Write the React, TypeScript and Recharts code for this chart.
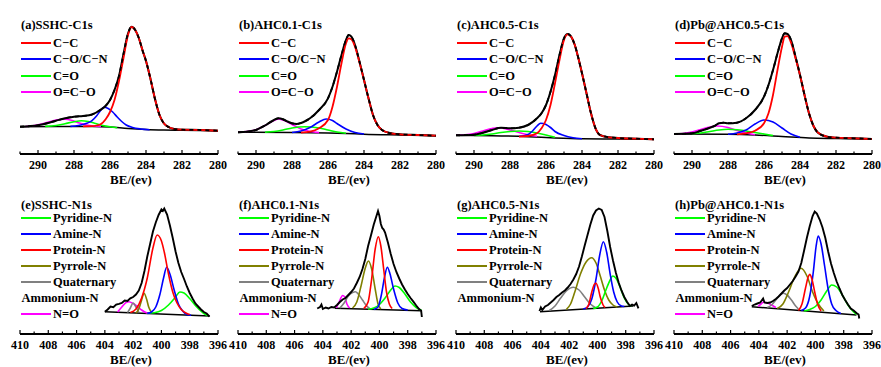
import React from 'react';
import { Line, LineChart, XAxis, YAxis } from 'recharts';

type Pt = [number, number];

// Values: binding energy (eV), intensity in frame units (0 = frame bottom, 139 = frame top)

// (a) SSHC C1s
const A_RAW: Pt[] = [[291, 27.3], [290.5, 27.8], [290, 28.7], [289.5, 30.7], [289, 33.3], [288.5, 35.7], [288, 37.3], [287.5, 38], [287, 39.5], [286.5, 44.5], [286.25, 48], [286, 54], [285.75, 64], [285.5, 78], [285.25, 100], [285, 120.5], [284.8, 127.3], [284.6, 124], [284.4, 116], [284.2, 104], [284, 93], [283.75, 75], [283.5, 55], [283.25, 39], [283, 30.5], [282.75, 27], [282.5, 25.3], [282, 24.3], [281, 24], [280, 23.3]];
const A_BASE: Pt[] = [[291, 27.3], [289, 27.6], [287, 27.6], [286, 27], [285, 25.5], [284, 24.5], [283, 24], [282, 23.8], [280, 23.3]];
const A_CC: Pt[] = [[287.5, 27.7], [287, 27.8], [286.75, 28.5], [286.5, 30], [286.25, 34.5], [286, 42], [285.75, 54], [285.5, 73], [285.25, 96], [285, 119], [284.8, 127], [284.6, 124], [284.4, 116], [284.2, 104], [284, 93], [283.75, 75], [283.5, 55], [283.25, 39], [283, 30.5], [282.75, 27], [282.5, 25.3], [282, 24.3], [281, 24], [280, 23.3]];
const A_CO: Pt[] = [[288.2, 27.6], [287.75, 28.5], [287.25, 31], [287, 33.3], [286.75, 38], [286.5, 44], [286.35, 46.7], [286.1, 45.5], [285.85, 42], [285.6, 37], [285.35, 32.5], [285.1, 29], [284.75, 26.5], [284.3, 25], [283.8, 24.3]];
const A_CDO: Pt[] = [[289.6, 27.6], [289, 28.5], [288.5, 30.3], [288, 32.3], [287.6, 33.3], [287.2, 32.5], [286.8, 30.5], [286.4, 28.5], [286, 27.2], [285.6, 26.3]];
const A_OCO: Pt[] = [[290.7, 27.5], [290.2, 28.5], [289.7, 30.5], [289.2, 33], [288.8, 34.5], [288.5, 34.7], [288.1, 33.5], [287.7, 31], [287.3, 29], [286.9, 28], [286.5, 27.6]];

// (b) AHC0.1 C1s
const B_RAW: Pt[] = [[291, 21.7], [290.5, 22.3], [290, 24], [289.5, 28.5], [289, 34], [288.75, 35.7], [288.5, 34.7], [288.25, 32.5], [288, 30.7], [287.75, 30], [287.5, 31], [287.25, 33], [287, 35.7], [286.5, 44], [286, 55.7], [285.75, 67.3], [285.5, 82.3], [285.25, 99], [285, 114], [284.85, 119], [284.7, 117.3], [284.5, 109], [284.25, 92.3], [284, 74], [283.75, 55.7], [283.5, 39], [283.25, 29], [283, 24], [282.5, 20.7], [282, 19.7], [281, 19], [280, 18.3]];
const B_BASE: Pt[] = [[291, 21.7], [288, 21.5], [286, 21], [285, 20.5], [284, 19.8], [282, 19], [280, 18.3]];
const B_CC: Pt[] = [[287.5, 21.4], [287, 22.3], [286.5, 25.7], [286, 34], [285.75, 47.3], [285.5, 67.3], [285.25, 90.7], [285, 110.7], [284.85, 115.7], [284.7, 114.7], [284.5, 107.3], [284.25, 91.5], [284, 74], [283.75, 55.7], [283.5, 39], [283.25, 29], [283, 24], [282.5, 20.7], [282, 19.7], [281, 19], [280, 18.3]];
const B_CO: Pt[] = [[288, 21.5], [287.5, 23], [287, 26.5], [286.5, 32], [286.1, 35], [285.75, 33.5], [285.5, 30.5], [285, 25], [284.5, 21.5], [284, 20]];
const B_CDO: Pt[] = [[289.5, 21.8], [289, 22.5], [288.5, 24], [288, 26], [287.3, 27.3], [286.5, 26], [286, 24], [285.5, 22], [285, 20.8]];
const B_OCO: Pt[] = [[291, 21.8], [290.5, 22.4], [290, 24.3], [289.5, 28.5], [289, 33.5], [288.75, 35], [288.5, 34], [288, 29.5], [287.5, 25], [287, 22.5], [286.5, 21.4]];

// (c) AHC0.5 C1s
const C_RAW: Pt[] = [[291, 18.7], [290, 19.3], [289.5, 21.3], [289, 24], [288.5, 26.3], [288, 25.7], [287.5, 26.3], [287, 29], [286.5, 35.7], [286.25, 40.7], [286, 49], [285.75, 62.3], [285.5, 79], [285.25, 99], [285, 115.7], [284.8, 120], [284.6, 117.3], [284.4, 109], [284.2, 95.7], [284, 80.7], [283.75, 60.7], [283.5, 40.7], [283.25, 25.7], [283, 19], [282.5, 16.7], [282, 16], [281, 15.3], [280, 14.7]];
const C_BASE: Pt[] = [[291, 18.7], [289, 18.3], [287, 17.3], [285.5, 16], [284, 15.2], [282, 15], [280, 14.7]];
const C_CC: Pt[] = [[287.5, 17.4], [287, 18], [286.5, 20.7], [286.25, 25.7], [286, 34], [285.75, 49], [285.5, 70.7], [285.25, 94], [285, 114], [284.8, 119.7], [284.6, 117.3], [284.4, 109], [284.2, 95.7], [284, 80.7], [283.75, 60.7], [283.5, 40.7], [283.25, 25.7], [283, 19], [282.5, 16.7], [282, 16], [281, 15.3], [280, 14.7]];
const C_CO: Pt[] = [[287.5, 17.5], [287, 19.5], [286.75, 23], [286.5, 28], [286.3, 30.7], [286, 29.5], [285.75, 26.5], [285.5, 22.5], [285, 18.5], [284.5, 16.3], [284, 15.3]];
const C_CDO: Pt[] = [[290, 18.6], [289.5, 19], [289, 20], [288.5, 21.5], [288, 22.5], [287.5, 23], [287, 22.5], [286.5, 21], [286, 19], [285.5, 16.8]];
const C_OCO: Pt[] = [[291, 18.8], [290.5, 19.2], [290, 20.5], [289.5, 23], [289, 25.5], [288.7, 26.3], [288.5, 26], [288, 24], [287.5, 21.5], [287, 19.3], [286.5, 17.8]];

// (d) Pb@AHC0.5 C1s
const D_RAW: Pt[] = [[291, 20], [290, 20.7], [289.5, 23.3], [289, 26.3], [288.75, 28], [288.5, 30.7], [288.25, 31.3], [288, 30.7], [287.5, 31.3], [287, 35.7], [286.5, 44], [286, 57.3], [285.75, 69], [285.5, 84], [285.25, 100.7], [285, 115.7], [284.85, 120.7], [284.7, 120], [284.5, 114], [284.25, 97.3], [284, 79], [283.75, 59], [283.5, 40.7], [283.25, 28], [283, 21.3], [282.5, 17.3], [282, 16.3], [281, 15.7], [280, 15]];
const D_BASE: Pt[] = [[291, 20], [288, 19.7], [286.5, 19], [285, 17.5], [283.5, 16], [282, 15.5], [280, 15]];
const D_CC: Pt[] = [[287.5, 19.6], [287, 20.7], [286.5, 23.3], [286, 30.7], [285.75, 40.7], [285.5, 59], [285.25, 84], [285, 107.3], [284.85, 117.3], [284.7, 117.8], [284.5, 111.3], [284.25, 95.7], [284, 79], [283.75, 59], [283.5, 40.7], [283.25, 28], [283, 21.3], [282.5, 17.3], [282, 16.3], [281, 15.7], [280, 15]];
const D_CO: Pt[] = [[288, 19.7], [287.5, 21], [287, 24], [286.5, 30], [286, 34], [285.5, 32], [285, 26], [284.5, 20], [284, 16.8]];
const D_CDO: Pt[] = [[290, 20.3], [289.5, 21], [289, 22.5], [288.5, 24], [288, 24.7], [287.5, 24.3], [287, 23], [286.5, 21.5], [286, 20], [285.5, 18.4]];
const D_OCO: Pt[] = [[291, 20], [290.5, 20.5], [290, 22], [289.5, 24.5], [289, 27], [288.6, 28], [288, 26.5], [287.5, 23.5], [287, 21], [286.5, 19.3]];

// (e) SSHC N1s
const E_RAW: Pt[] = [[404, 22.3], [403.8, 24.5], [403.6, 27.5], [403.4, 26.8], [403.2, 29.5], [403, 30.2], [402.8, 31], [402.6, 33.5], [402.4, 33], [402.2, 35.7], [402, 37], [401.8, 39.5], [401.6, 43.5], [401.4, 51], [401.2, 63], [401, 77.5], [400.8, 90], [400.6, 102.5], [400.4, 111.5], [400.2, 119], [400, 124.5], [399.9, 123], [399.8, 125.5], [399.6, 119.5], [399.4, 108.5], [399.2, 96], [399, 82.5], [398.8, 71], [398.6, 62], [398.4, 55], [398.2, 47.5], [398, 41], [397.8, 35.5], [397.6, 30.5], [397.4, 27.5], [397.2, 24.5], [397, 22], [396.8, 20.5], [396.6, 17.3]];
const E_BASE: Pt[] = [[404, 22.3], [396.6, 18]];
const E_PYRIDINE: Pt[] = [[401, 20.7], [400.5, 21.3], [400, 23.5], [399.5, 29], [399, 37], [398.7, 42], [398.4, 41], [398, 35.5], [397.5, 27], [397, 20.5], [396.7, 18.3]];
const E_AMINE: Pt[] = [[401, 20.6], [400.7, 22], [400.4, 27], [400.1, 40], [399.85, 56], [399.63, 66.7], [399.4, 60], [399.1, 44], [398.8, 30], [398.5, 23], [398.2, 19.5], [397.9, 18.8]];
const E_PROTEIN: Pt[] = [[402.2, 21.5], [401.8, 25], [401.4, 36], [401, 56], [400.6, 86], [400.3, 99], [400, 93], [399.8, 82], [399.5, 60], [399.2, 42], [398.9, 31], [398.6, 24.5], [398.2, 20.5], [398, 19.5]];
const E_PYRROLE: Pt[] = [[401.8, 21], [401.6, 25], [401.4, 34], [401.23, 40.7], [401.05, 35], [400.9, 27], [400.7, 21.5]];
const E_QUAT: Pt[] = [[402.4, 21.3], [402.2, 26], [402, 31], [401.8, 27], [401.6, 22]];
const E_NO: Pt[] = [[403.1, 22], [402.8, 27], [402.5, 31.5], [402.3, 32.3], [402, 30.5], [401.7, 27.5], [401.4, 24], [401.1, 21.5], [400.9, 20.8]];

// (f) AHC0.1 N1s
const F_RAW: Pt[] = [[404.4, 25.5], [404.2, 27], [404.1, 29.5], [404, 25], [403.8, 26.5], [403.6, 25.5], [403.4, 27], [403.2, 26.5], [403, 29], [402.8, 32], [402.6, 34.5], [402.4, 36], [402.2, 39], [402, 42], [401.8, 45.5], [401.6, 51], [401.4, 57], [401.2, 65], [401, 75], [400.8, 88], [400.6, 98.5], [400.4, 109.5], [400.2, 118.5], [400.1, 123], [400, 118], [399.9, 110], [399.8, 106], [399.7, 104.5], [399.6, 101.5], [399.4, 91.5], [399.2, 80], [399, 70], [398.8, 62], [398.6, 55.5], [398.4, 49.5], [398.2, 44.5], [398, 40], [397.8, 36], [397.6, 32.3], [397.4, 28.5], [397.2, 25], [397.05, 23.3], [397, 17]];
const F_BASE: Pt[] = [[403.15, 25.7], [397, 23.3]];
const F_PYRIDINE: Pt[] = [[400.8, 24.8], [400.4, 26], [400, 29.5], [399.6, 36], [399.2, 44], [398.9, 48], [398.6, 46.5], [398.2, 40], [397.8, 32], [397.4, 26.5], [397, 23.5]];
const F_AMINE: Pt[] = [[400.4, 24.5], [400.1, 27], [399.85, 40], [399.65, 56], [399.44, 66.7], [399.25, 60], [399, 45], [398.7, 31], [398.4, 25.5], [398, 24]];
const F_PROTEIN: Pt[] = [[401.1, 25.5], [400.8, 32], [400.55, 55], [400.3, 85], [400.08, 97.3], [399.9, 88], [399.7, 65], [399.5, 42], [399.3, 30], [399.1, 25.5]];
const F_PYRROLE: Pt[] = [[401.9, 26], [401.6, 32], [401.3, 48], [401, 66], [400.78, 73], [400.55, 65], [400.3, 45], [400.1, 30], [399.9, 25]];
const F_QUAT: Pt[] = [[402.8, 26], [402.5, 31], [402.2, 38], [401.9, 41.5], [401.7, 42.3], [401.5, 40], [401.2, 34], [400.9, 28], [400.7, 25.5]];
const F_NO: Pt[] = [[403.05, 26], [402.85, 32], [402.6, 38.5], [402.45, 37], [402.3, 30], [402.1, 26]];

// (g) AHC0.5 N1s
const G_RAW: Pt[] = [[404.1, 23], [404, 26.5], [403.9, 24], [403.7, 27.5], [403.5, 29], [403.3, 31.5], [403.1, 34], [402.9, 37], [402.7, 39], [402.5, 41.5], [402.3, 43.5], [402.1, 46.5], [401.9, 50], [401.7, 54.5], [401.5, 60], [401.3, 67.5], [401.1, 77.5], [400.9, 88.5], [400.7, 99], [400.5, 109.5], [400.3, 118.5], [400.1, 123.5], [399.9, 125.5], [399.7, 124], [399.5, 117], [399.3, 103], [399.1, 87], [398.9, 73.5], [398.7, 61.5], [398.5, 51.5], [398.3, 43.5], [398.1, 37], [397.9, 32], [397.7, 28], [397.55, 29.5], [397.4, 28.5], [397.25, 31], [397.1, 25.7]];
const G_BASE: Pt[] = [[404.06, 22.3], [397.46, 28]];
const G_PYRIDINE: Pt[] = [[400.3, 25.6], [400, 27], [399.7, 33], [399.4, 44], [399.1, 54], [398.92, 58], [398.7, 56], [398.4, 47], [398.1, 36], [397.8, 29.5], [397.6, 28]];
const G_AMINE: Pt[] = [[401, 25], [400.7, 27], [400.4, 35], [400.1, 55], [399.85, 78], [399.58, 92.3], [399.35, 82], [399.1, 60], [398.85, 42], [398.6, 32], [398.3, 28], [398.1, 27.5]];
const G_PROTEIN: Pt[] = [[400.8, 25.5], [400.6, 30], [400.4, 42], [400.2, 50], [400.1, 50.7], [399.95, 46], [399.8, 37], [399.6, 29], [399.45, 26.5]];
const G_PYRROLE: Pt[] = [[402.2, 24.5], [401.9, 30], [401.6, 42], [401.2, 60], [400.8, 72], [400.41, 76.3], [400.1, 71], [399.8, 58], [399.5, 44], [399.2, 34], [398.9, 29], [398.6, 27]];
const G_QUAT: Pt[] = [[403.4, 23.5], [403, 28], [402.6, 36], [402.2, 43], [401.7, 46.7], [401.3, 44], [400.9, 37], [400.5, 30], [400.1, 26]];

// (h) Pb@AHC0.1 N1s
const H_RAW: Pt[] = [[404.5, 28], [404.3, 29.5], [404.1, 30.5], [403.9, 31.5], [403.7, 35.5], [403.6, 31.5], [403.4, 31], [403.2, 31.5], [403, 33], [402.8, 35], [402.6, 37.5], [402.4, 40.5], [402.2, 43.5], [402, 46], [401.8, 49.5], [401.6, 53], [401.4, 57.5], [401.2, 62.5], [401, 71], [400.8, 83.5], [400.6, 96.5], [400.4, 108], [400.2, 118], [400.05, 122.5], [399.9, 120.5], [399.7, 114.5], [399.5, 106.5], [399.3, 96], [399.1, 82.5], [398.9, 70.5], [398.7, 61], [398.5, 52.5], [398.3, 45.5], [398.1, 39], [397.9, 34], [397.7, 29.5], [397.5, 25.5], [397.3, 23.5], [397.1, 21], [396.95, 19.5], [396.9, 15.5]];
const H_BASE: Pt[] = [[404.5, 27.3], [397.1, 19]];
const H_PYRIDINE: Pt[] = [[400.8, 23], [400.4, 24.5], [400, 27.5], [399.6, 34], [399.2, 43], [398.85, 49], [398.5, 47], [398.1, 39], [397.7, 29], [397.3, 22], [397.1, 19.5]];
const H_AMINE: Pt[] = [[401, 23.5], [400.7, 26], [400.4, 38], [400.15, 62], [399.95, 88], [399.8, 98], [399.6, 90], [399.35, 68], [399.1, 45], [398.85, 30], [398.55, 23.5], [398.2, 20.5]];
const H_PROTEIN: Pt[] = [[401.2, 23.5], [400.95, 30], [400.7, 46], [400.5, 57.5], [400.4, 59.7], [400.25, 55], [400.05, 42], [399.85, 30], [399.6, 23]];
const H_PYRROLE: Pt[] = [[402.7, 25.5], [402.3, 30], [401.9, 42], [401.5, 56], [401.02, 65.7], [400.6, 58], [400.2, 42], [399.8, 30], [399.4, 23]];
const H_QUAT: Pt[] = [[403.4, 26.5], [403.1, 29], [402.8, 34], [402.5, 39], [402.27, 40.7], [402, 39], [401.7, 34], [401.4, 28], [401.2, 25]];
const H_NO: Pt[] = [[404.05, 27.5], [403.85, 30], [403.68, 31.7], [403.4, 31], [403.1, 29], [402.8, 26.5]];

const C1S_TICKS = [291, 290, 289, 288, 287, 286, 285, 284, 283, 282, 281, 280];
const N1S_TICKS = [410, 409, 408, 407, 406, 405, 404, 403, 402, 401, 400, 399, 398, 397, 396];

const C1S_LABELS = ['C−C', 'C−O/C−N', 'C=O', 'O=C−O'];
const N1S_LABELS = ['Pyridine-N', 'Amine-N', 'Protein-N', 'Pyrrole-N', 'Quaternary', 'Ammonium-N', 'N=O'];

const RED = '#ff0000';
const BLUE = '#0000ff';
const GREEN = '#00ff00';
const MAGENTA = '#ff00ff';
const OLIVE = '#808000';
const GRAY = '#808080';
const BLACK = '#000000';

const C1S_COLORS = [RED, BLUE, GREEN, MAGENTA];
const N1S_COLORS: (string | null)[] = [GREEN, BLUE, RED, OLIVE, GRAY, null, MAGENTA];

const FONT = '"Liberation Serif", "DejaVu Serif", "Times New Roman", serif';
const BOX_W = 198;
const BOX_H = 139;
const M_TOP = 15;
const M_LEFT = 20;
const CHART_W = 240;
const CHART_H = 185;
const AXIS_Y = M_TOP + BOX_H;
const FRAME = { stroke: BLACK, strokeWidth: 1.8 };

type Curve = { pts: Pt[]; color: string; width: number; dash?: string; linear?: boolean };

const c1s = (raw: Pt[], base: Pt[], cc: Pt[], co: Pt[], cdo: Pt[], oco: Pt[]): Curve[] => [
  { pts: base, color: BLACK, width: 1.5 },
  { pts: oco, color: MAGENTA, width: 1.6 },
  { pts: cdo, color: GREEN, width: 1.6 },
  { pts: co, color: BLUE, width: 1.6 },
  { pts: raw, color: BLACK, width: 2 },
  { pts: cc, color: RED, width: 1.8 },
  { pts: raw, color: BLACK, width: 1.8, dash: '4 4' },
];

const n1s = (raw: Pt[], base: Pt[], comps: [Pt[], string][]): Curve[] => [
  { pts: base, color: BLACK, width: 1.5, linear: true },
  ...comps.map(([pts, color]) => ({ pts, color, width: 1.6 })),
  { pts: raw, color: BLACK, width: 1.9, linear: true },
];

type PanelDef = {
  boxLeft: number;
  rowTop: number;
  title: string;
  kind: 'c' | 'n';
  curves: Curve[];
  legend: number;
};

const PANELS: PanelDef[] = [
  { boxLeft: 20, rowTop: 0, title: '(a)SSHC-C1s', kind: 'c', legend: 4, curves: c1s(A_RAW, A_BASE, A_CC, A_CO, A_CDO, A_OCO) },
  { boxLeft: 238, rowTop: 0, title: '(b)AHC0.1-C1s', kind: 'c', legend: 4, curves: c1s(B_RAW, B_BASE, B_CC, B_CO, B_CDO, B_OCO) },
  { boxLeft: 456, rowTop: 0, title: '(c)AHC0.5-C1s', kind: 'c', legend: 4, curves: c1s(C_RAW, C_BASE, C_CC, C_CO, C_CDO, C_OCO) },
  { boxLeft: 674, rowTop: 0, title: '(d)Pb@AHC0.5-C1s', kind: 'c', legend: 4, curves: c1s(D_RAW, D_BASE, D_CC, D_CO, D_CDO, D_OCO) },
  {
    boxLeft: 20, rowTop: 180, title: '(e)SSHC-N1s', kind: 'n', legend: 7,
    curves: n1s(E_RAW, E_BASE, [[E_NO, MAGENTA], [E_QUAT, GRAY], [E_PYRROLE, OLIVE], [E_PYRIDINE, GREEN], [E_AMINE, BLUE], [E_PROTEIN, RED]]),
  },
  {
    boxLeft: 238, rowTop: 180, title: '(f)AHC0.1-N1s', kind: 'n', legend: 7,
    curves: n1s(F_RAW, F_BASE, [[F_NO, MAGENTA], [F_QUAT, GRAY], [F_PYRROLE, OLIVE], [F_PYRIDINE, GREEN], [F_AMINE, BLUE], [F_PROTEIN, RED]]),
  },
  {
    boxLeft: 456, rowTop: 180, title: '(g)AHC0.5-N1s', kind: 'n', legend: 6,
    curves: n1s(G_RAW, G_BASE, [[G_QUAT, GRAY], [G_PYRROLE, OLIVE], [G_PYRIDINE, GREEN], [G_AMINE, BLUE], [G_PROTEIN, RED]]),
  },
  {
    boxLeft: 674, rowTop: 180, title: '(h)Pb@AHC0.1-N1s', kind: 'n', legend: 7,
    curves: n1s(H_RAW, H_BASE, [[H_NO, MAGENTA], [H_QUAT, GRAY], [H_PYRROLE, OLIVE], [H_PYRIDINE, GREEN], [H_AMINE, BLUE], [H_PROTEIN, RED]]),
  },
];

const renderTick = (props: any) => {
  const { x, payload } = props;
  const v = payload.value as number;
  const major = v % 2 === 0;
  return (
    <g>
      <line x1={x} x2={x} y1={AXIS_Y} y2={AXIS_Y - (major ? 4 : 2.5)} stroke={BLACK} strokeWidth={1.2} />
      {major && (
        <text x={x} y={AXIS_Y + 15} textAnchor="middle" fontFamily={FONT} fontWeight="bold" fontSize={12} fill={BLACK}>
          {v}
        </text>
      )}
    </g>
  );
};

const textStyle: React.CSSProperties = {
  position: 'absolute',
  height: 16,
  lineHeight: '16px',
  fontFamily: FONT,
  fontWeight: 'bold',
  fontSize: 12.5,
  color: BLACK,
  whiteSpace: 'nowrap',
};

const Panel = ({ p }: { p: PanelDef }) => {
  const isC = p.kind === 'c';
  const domain: [number, number] = isC ? [280, 291] : [396, 410];
  const boxTop = p.rowTop + M_TOP;
  const labels = isC ? C1S_LABELS : N1S_LABELS;
  const colors = isC ? C1S_COLORS : N1S_COLORS;
  const firstY = boxTop + (isC ? 28.3 : 23.3);
  const step = isC ? 16.1 : 16;
  return (
    <>
      <div style={{ position: 'absolute', left: p.boxLeft - M_LEFT, top: p.rowTop, width: CHART_W, height: CHART_H }}>
        <LineChart width={CHART_W} height={CHART_H} margin={{ top: M_TOP, right: CHART_W - M_LEFT - BOX_W, bottom: 0, left: M_LEFT }}>
          <XAxis
            xAxisId="b"
            type="number"
            dataKey="x"
            domain={domain}
            reversed
            allowDataOverflow
            ticks={isC ? C1S_TICKS : N1S_TICKS}
            interval={0}
            height={CHART_H - AXIS_Y}
            tickLine={false}
            tickSize={0}
            tickMargin={0}
            axisLine={FRAME}
            tick={renderTick}
          />
          <XAxis xAxisId="t" orientation="top" type="number" domain={domain} reversed allowDataOverflow height={0} tick={false} tickLine={false} axisLine={FRAME} />
          <YAxis yAxisId="l" type="number" domain={[0, BOX_H]} allowDataOverflow width={0} tick={false} tickLine={false} axisLine={FRAME} />
          <YAxis yAxisId="r" orientation="right" type="number" domain={[0, BOX_H]} width={0} tick={false} tickLine={false} axisLine={FRAME} />
          {p.curves.map((c, i) => (
            <Line
              key={i}
              xAxisId="b"
              yAxisId="l"
              data={c.pts.map(([x, y]) => ({ x, y }))}
              dataKey="y"
              type={c.linear ? 'linear' : 'monotone'}
              stroke={c.color}
              strokeWidth={c.width}
              strokeDasharray={c.dash}
              dot={false}
              activeDot={false}
              isAnimationActive={false}
            />
          ))}
        </LineChart>
      </div>
      <div style={{ ...textStyle, left: p.boxLeft + 1, top: boxTop + 10 - 8 }}>{p.title}</div>
      {labels.slice(0, p.legend).map((lab, i) => {
        const cy = firstY + step * i;
        const col = colors[i];
        return (
          <React.Fragment key={lab}>
            {col && <div style={{ position: 'absolute', left: p.boxLeft + 1, top: cy - 1, width: 30, height: 2, background: col }} />}
            <div style={{ ...textStyle, left: col ? p.boxLeft + 33 : p.boxLeft + 1.5, top: cy - 8 }}>{lab}</div>
          </React.Fragment>
        );
      })}
      <div style={{ ...textStyle, fontSize: 13, left: p.boxLeft + 111 - 50, width: 100, textAlign: 'center', top: boxTop + (isC ? 165 : 164.5) - 8 }}>
        BE/(ev)
      </div>
    </>
  );
};

export default function App() {
  return (
    <div style={{ position: 'absolute', left: 0, top: 0, width: 881, height: 367, overflow: 'hidden', background: '#fff' }}>
      {PANELS.map((p) => (
        <Panel key={p.title} p={p} />
      ))}
    </div>
  );
}
